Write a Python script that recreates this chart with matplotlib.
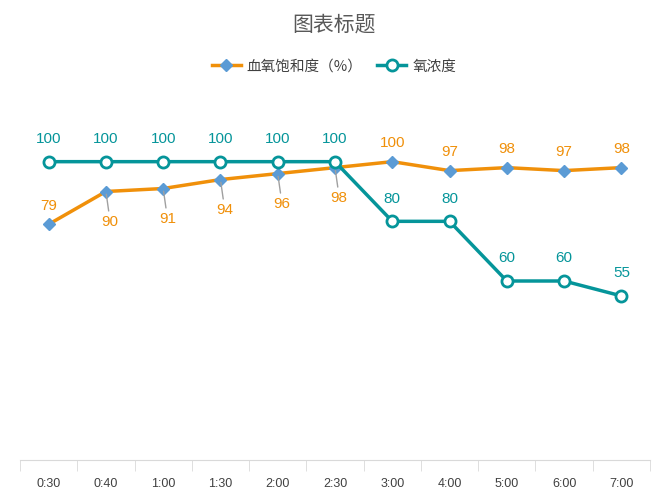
import matplotlib.pyplot as plt
import numpy as np

plt.rcParams['font.family'] = ['Noto Sans CJK SC', 'DejaVu Sans']

times = ["0:30", "0:40", "1:00", "1:30", "2:00", "2:30", "3:00", "4:00", "5:00", "6:00", "7:00"]
spo2 = [79, 90, 91, 94, 96, 98, 100, 97, 98, 97, 98]
oxygen = [100, 100, 100, 100, 100, 100, 80, 80, 60, 60, 55]

orange = '#F0900A'
teal = '#05959A'
numfont = ['Liberation Sans', 'DejaVu Sans']

fig = plt.figure(figsize=(6.68, 5.02), dpi=100)
ax = fig.add_axes([20/668, 41/502, 630/668, 358/502])
x = np.arange(len(times))

ax.plot(x, spo2, color=orange, lw=2.5, marker='D', ms=6, mfc='#5B9BD5', mec='#5B9BD5',
        label='血氧饱和度（%）', zorder=3)
ax.plot(x, oxygen, color=teal, lw=2.5, marker='o', ms=8, mfc='white', mec=teal, mew=2,
        label='氧浓度', zorder=4)

for i, v in enumerate(oxygen):
    ax.annotate(str(v), (i, v), xytext=(0, 12), textcoords='offset points',
                ha='center', va='bottom', color=teal, fontsize=11, family=numfont)
for i, v in enumerate(spo2):
    if 1 <= i <= 5:
        ax.annotate(str(v), (i, v), xytext=(3, -16), textcoords='offset points',
                    ha='center', va='top', color=orange, fontsize=11, family=numfont,
                    arrowprops=dict(arrowstyle='-', color='#A0A0A0', lw=1,
                                    shrinkA=0, shrinkB=2))
    else:
        ax.annotate(str(v), (i, v), xytext=(0, 9), textcoords='offset points',
                    ha='center', va='bottom', color=orange, fontsize=11, family=numfont)

ax.set_xlim(-0.5, len(times) - 0.5)
ax.set_ylim(0, 120)
ax.set_yticks([])
for s in ['left', 'right', 'top']:
    ax.spines[s].set_visible(False)
ax.spines['bottom'].set_color('#D9D9D9')
ax.set_xticks(x)
ax.set_xticklabels(times, fontsize=9, color='#404040', family=numfont)
ax.tick_params(axis='x', which='major', length=0, pad=12)
ax.set_xticks(np.arange(-0.5, len(times)), minor=True)
ax.tick_params(axis='x', which='minor', length=8, color='#D9D9D9')

fig.text(0.5, 0.952, '图表标题', ha='center', va='center', fontsize=15, color='#595959')
fig.legend(loc='center', bbox_to_anchor=(0.5, 0.867), ncol=2, frameon=False,
           fontsize=10.5, labelcolor='#404040', handlelength=2.0, handletextpad=0.4,
           columnspacing=1.0)

fig.savefig('out.png', dpi=100)
